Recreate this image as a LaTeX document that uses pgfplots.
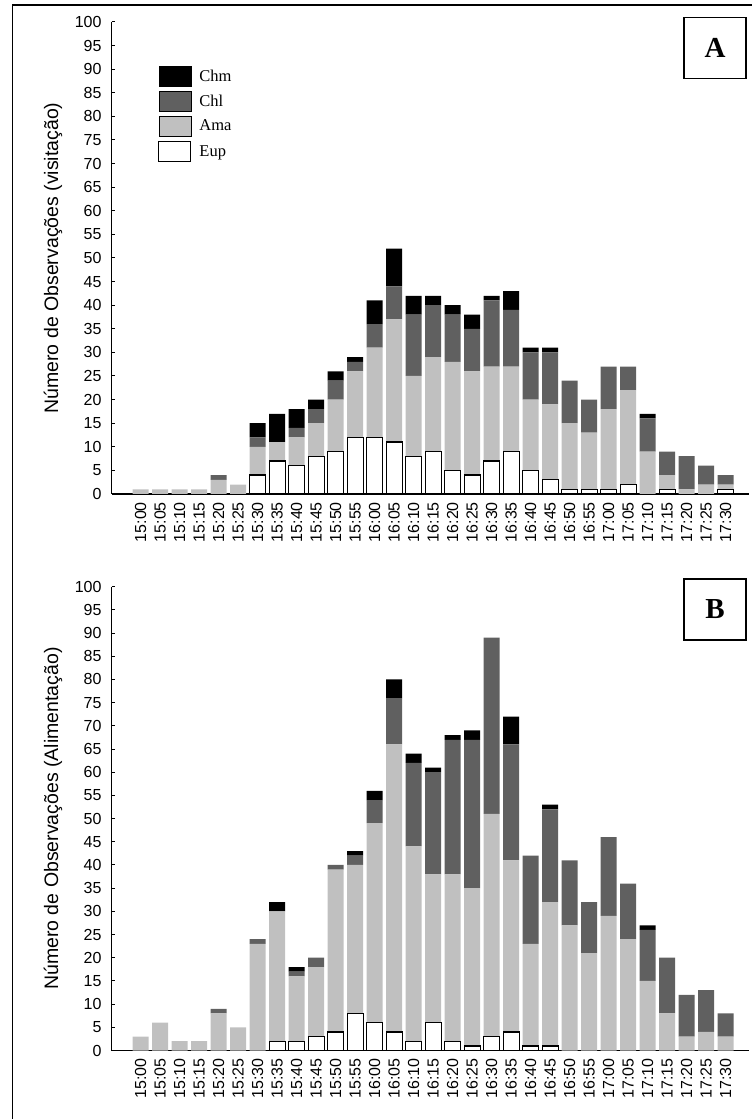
\documentclass[border=0pt]{standalone}
\usepackage{fontspec}
\setmainfont{Liberation Serif}
\setsansfont{Liberation Sans}
\usepackage{pgfplots}
\usepackage{pgfplotstable}
\pgfplotsset{compat=1.18}

\definecolor{chmc}{HTML}{000000}
\definecolor{chlc}{HTML}{606060}
\definecolor{amac}{HTML}{C0C0C0}

\pgfplotstableread{
x eup ama chl chm
0 0 1 0 0
1 0 1 0 0
2 0 1 0 0
3 0 1 0 0
4 0 3 1 0
5 0 2 0 0
6 4 6 2 3
7 7 4 0 6
8 6 6 2 4
9 8 7 3 2
10 9 11 4 2
11 12 14 2 1
12 12 19 5 5
13 11 26 7 8
14 8 17 13 4
15 9 20 11 2
16 5 23 10 2
17 4 22 9 3
18 7 20 14 1
19 9 18 12 4
20 5 15 10 1
21 3 16 11 1
22 1 14 9 0
23 1 12 7 0
24 1 17 9 0
25 2 20 5 0
26 0 9 7 1
27 1 3 5 0
28 0 1 7 0
29 0 2 4 0
30 1 1 2 0
}\dataA

\pgfplotstableread{
x eup ama chl chm
0 0 3 0 0
1 0 6 0 0
2 0 2 0 0
3 0 2 0 0
4 0 8 1 0
5 0 5 0 0
6 0 23 1 0
7 2 28 0 2
8 2 14 1 1
9 3 15 2 0
10 4 35 1 0
11 8 32 2 1
12 6 43 5 2
13 4 62 10 4
14 2 42 18 2
15 6 32 22 1
16 2 36 29 1
17 1 34 32 2
18 3 48 38 0
19 4 37 25 6
20 1 22 19 0
21 1 31 20 1
22 0 27 14 0
23 0 21 11 0
24 0 29 17 0
25 0 24 12 0
26 0 15 11 1
27 0 8 12 0
28 0 3 9 0
29 0 4 9 0
30 0 3 5 0
}\dataB

\pgfplotsset{
  panel/.style={
    scale only axis,
    width=637.4pt,
    xmin=-1.487, xmax=31.2,
    ymin=0, ymax=100,
    ytick={0,5,...,100},
    xtick={0,...,30},
    xticklabels={15:00,15:05,15:10,15:15,15:20,15:25,15:30,15:35,15:40,15:45,15:50,15:55,16:00,16:05,16:10,16:15,16:20,16:25,16:30,16:35,16:40,16:45,16:50,16:55,17:00,17:05,17:10,17:15,17:20,17:25,17:30},
    axis x line=bottom, axis y line=left,
    axis line style={-, line width=1.3pt, black},
    ybar stacked, bar width=16pt,
    tick align=inside,
    major tick length=3.5pt,
    ytick style={black, line width=1pt},
    xtick style={draw=none},
    /pgf/number format/assume math mode=true,
    ticklabel style={font=\sffamily\fontsize{16}{16}\selectfont},
    yticklabel style={inner sep=0pt},
    yticklabel shift=10pt,
    xticklabel style={rotate=90, anchor=east, inner sep=0pt},
    xticklabel shift=8pt,
    ylabel style={font=\sffamily\fontsize{19.5}{20}\selectfont, at={(axis description cs:-0.092,0.5)}, anchor=center},
    clip=false,
  },
  eupst/.style={fill=white, draw=black, line width=1.3pt},
  amast/.style={fill=amac, draw=none},
  chlst/.style={fill=chlc, draw=none},
  chmst/.style={fill=chmc, draw=none},
}

\begin{document}
\begin{tikzpicture}[x=1pt,y=1pt]
\useasboundingbox (0,0) rectangle (752,1119);
\draw[line width=1.3pt] (12.7,-5) -- (12.7,1114) -- (760,1114);

% Panel A
\begin{axis}[panel,
  at={(111.7pt,625pt)}, anchor=south west, height=472pt,
  ylabel={Número de Observações (visitação)},
  reverse legend,
  legend image code/.code={\draw[#1] (0pt,-10pt) rectangle (32pt,10pt);},
  legend style={at={(rel axis cs:0.0726,0.9068)}, anchor=north west, draw=none, fill=none,
    font=\rmfamily\fontsize{16.5}{17}\selectfont, inner sep=0pt, row sep=4.5pt,
    nodes={inner sep=0pt}, /tikz/every odd column/.style={column sep=8pt}},
  legend cell align=left,
]
\addplot[eupst] table[x=x,y=eup]{\dataA};
\addplot[amast] table[x=x,y=ama]{\dataA};
\addplot[chlst] table[x=x,y=chl]{\dataA};
\addplot[chmst] table[x=x,y=chm]{\dataA};
\legend{Eup,Ama,Chl,Chm}
\node[draw=black, line width=1.4pt, minimum width=62pt, minimum height=61pt, inner sep=0pt,
  font=\rmfamily\bfseries\fontsize{29}{29}\selectfont] at (rel axis cs:0.9465,0.945) {A};
\end{axis}

% Panel B
\begin{axis}[panel,
  at={(111.7pt,68.5pt)}, anchor=south west, height=463.8pt,
  ylabel={Número de Observações (Alimentação)},
]
\addplot[eupst] table[x=x,y=eup]{\dataB};
\addplot[amast] table[x=x,y=ama]{\dataB};
\addplot[chlst] table[x=x,y=chl]{\dataB};
\addplot[chmst] table[x=x,y=chm]{\dataB};
\node[draw=black, line width=1.4pt, minimum width=62pt, minimum height=61pt, inner sep=0pt,
  font=\rmfamily\bfseries\fontsize{29}{29}\selectfont] at (rel axis cs:0.9465,0.951) {B};
\end{axis}
\end{tikzpicture}
\end{document}
